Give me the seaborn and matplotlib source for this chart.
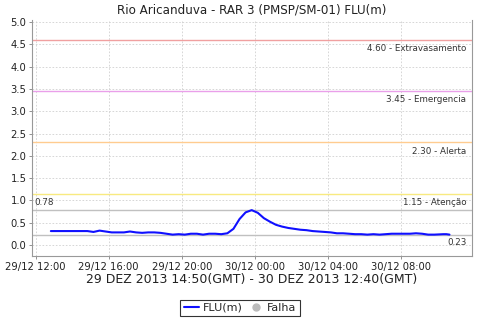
import numpy as np
import pandas as pd
import matplotlib
matplotlib.use("Agg")
import matplotlib.pyplot as plt
import matplotlib.dates as mdates
from matplotlib.lines import Line2D
import seaborn as sns

# ---- data ----
start_time = "2013-12-29 12:50"
times_min = [0, 20, 40, 60, 80, 100, 120, 140, 160, 180, 200, 220, 240, 260, 280, 300,
             320, 340, 360, 380, 400, 420, 440, 460, 480, 500, 520, 540, 560, 580, 600,
             620, 640, 660, 680, 700, 720, 740, 760, 780, 800, 820, 840, 860, 880, 900,
             920, 940, 960, 980, 1000, 1020, 1040, 1060, 1080, 1100, 1120, 1140, 1160,
             1180, 1200, 1220, 1240, 1260, 1290, 1300, 1310]
flu = [0.31, 0.31, 0.31, 0.31, 0.31, 0.31, 0.31, 0.29, 0.32, 0.30, 0.28, 0.28, 0.28,
       0.30, 0.28, 0.27, 0.28, 0.28, 0.27, 0.25, 0.23, 0.24, 0.23, 0.25, 0.25, 0.23,
       0.25, 0.25, 0.24, 0.26, 0.36, 0.58, 0.73, 0.78, 0.72, 0.60, 0.52, 0.45, 0.41,
       0.38, 0.36, 0.34, 0.33, 0.31, 0.30, 0.29, 0.28, 0.26, 0.26, 0.25, 0.24, 0.24,
       0.23, 0.24, 0.23, 0.24, 0.25, 0.25, 0.25, 0.25, 0.26, 0.25, 0.23, 0.23, 0.24,
       0.24, 0.23]
thresholds = [4.60, 3.45, 2.30, 1.15]
threshold_names = ["Extravasamento", "Emergencia", "Alerta", "Atenção"]
threshold_colors = ["#f0a0a0", "#eaa0ea", "#ffcc90", "#f8ea80"]
max_val = 0.78
last_val = 0.23
title = "Rio Aricanduva - RAR 3 (PMSP/SM-01) FLU(m)"
xlabel = "29 DEZ 2013 14:50(GMT) - 30 DEZ 2013 12:40(GMT)"
yticks = [0.0, 0.5, 1.0, 1.5, 2.0, 2.5, 3.0, 3.5, 4.0, 4.5, 5.0]
xtick_times = ["2013-12-29 12:00", "2013-12-29 16:00", "2013-12-29 20:00",
               "2013-12-30 00:00", "2013-12-30 04:00", "2013-12-30 08:00"]

df = pd.DataFrame({
    "time": pd.Timestamp(start_time) + pd.to_timedelta(times_min, unit="m"),
    "FLU(m)": flu,
})

sns.set_style("white")
plt.rcParams["font.family"] = ["DejaVu Sans"]

fig = plt.figure(figsize=(4.8, 3.2), dpi=100)
ax = fig.add_axes([32 / 480, 1 - 256 / 320, 440 / 480, 236 / 320])

ax.grid(True, color="#d0d0d0", linestyle=(0, (2, 2)), linewidth=0.6)
ax.set_axisbelow(True)

for v, name, c in zip(thresholds, threshold_names, threshold_colors):
    ax.axhline(v, color=c, linewidth=1.0, zorder=1)
    ax.annotate(f"{v:.2f} - {name}", xy=(1, v), xycoords=("axes fraction", "data"),
                xytext=(-4, -3), textcoords="offset points", ha="right", va="top",
                fontsize=6.3, color="#333333")

ax.axhline(max_val, color="#c0c0c0", linewidth=1.0, zorder=1)
ax.axhline(last_val, color="#c0c0c0", linewidth=1.0, zorder=1)
ax.annotate(f"{max_val:.2f}", xy=(0, max_val), xycoords=("axes fraction", "data"),
            xytext=(2, 2), textcoords="offset points", ha="left", va="bottom",
            fontsize=6.3, color="#333333")
ax.annotate(f"{last_val:.2f}", xy=(1, last_val), xycoords=("axes fraction", "data"),
            xytext=(-4, -2.5), textcoords="offset points", ha="right", va="top",
            fontsize=6.3, color="#333333")

sns.lineplot(data=df, x="time", y="FLU(m)", ax=ax, color="#1010ff", linewidth=1.5,
             zorder=3, legend=False)

ax.set_ylim(-0.25, 5.05)
ax.set_xlim(pd.Timestamp("2013-12-29 11:48"), pd.Timestamp("2013-12-30 11:54"))
ax.set_yticks(yticks)
ax.set_yticklabels([f"{t:.1f}" for t in yticks])
ax.set_xticks([pd.Timestamp(t) for t in xtick_times])
ax.xaxis.set_major_formatter(mdates.DateFormatter("%d/%m %H:%M"))
ax.tick_params(axis="both", labelsize=7.2, length=2, width=0.6, colors="#808080",
               labelcolor="#222222", pad=2, direction="out")
ax.tick_params(axis="x", bottom=True)
ax.tick_params(axis="y", left=True)

for s in ["left", "bottom", "right"]:
    ax.spines[s].set_color("#999999")
    ax.spines[s].set_linewidth(0.8)
ax.spines["top"].set_visible(False)

ax.set_ylabel("")
ax.set_xlabel(xlabel, fontsize=9, color="#222222", labelpad=1)
ax.set_title(title, fontsize=8.6, color="#222222", pad=5)

handles = [Line2D([0], [0], color="#1010ff", linewidth=1.5),
           Line2D([0], [0], marker="o", color="none", markerfacecolor="#bbbbbb",
                  markeredgecolor="#bbbbbb", markersize=5)]
leg = fig.legend(handles, ["FLU(m)", "Falha"], loc="lower center",
                 bbox_to_anchor=(0.5, 0.005), ncol=2, frameon=True, fontsize=8,
                 fancybox=False, handlelength=1.4, handletextpad=0.3,
                 columnspacing=0.5, borderpad=0.3, borderaxespad=0.2)
leg.get_frame().set_edgecolor("#000000")
leg.get_frame().set_linewidth(0.8)

fig.savefig("out.png", dpi=100, facecolor="white")
